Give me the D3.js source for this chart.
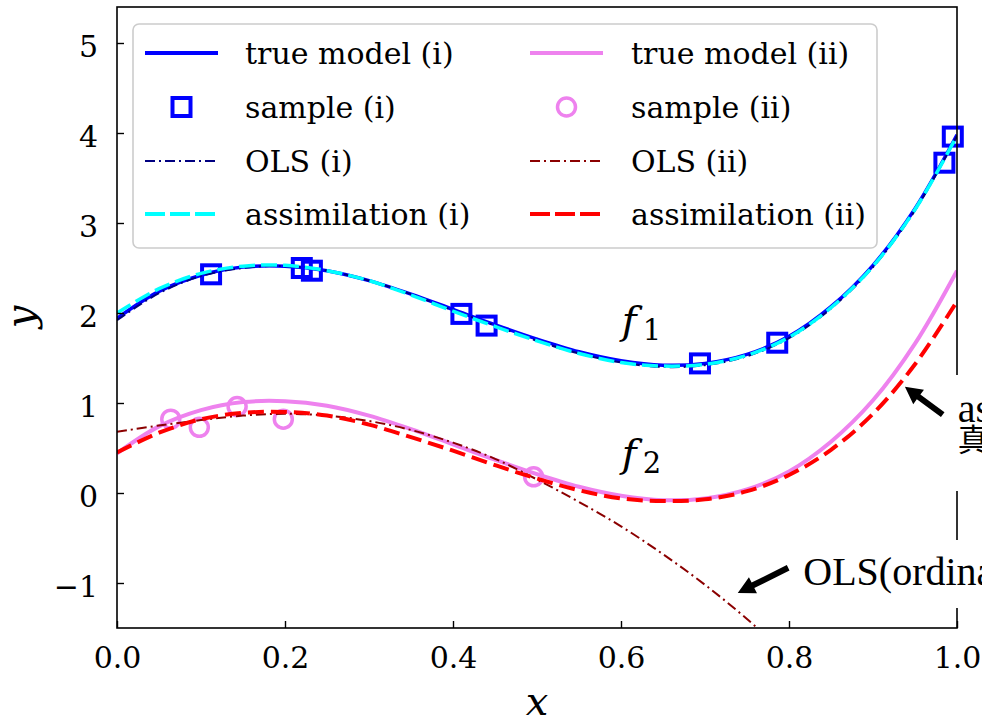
<!DOCTYPE html>
<html>
<head>
<meta charset="utf-8">
<script src="https://cdn.jsdelivr.net/npm/d3@7"></script>
<style>
  body { margin: 0; background: #fff; }
  svg { display: block; }
</style>
</head>
<body>
<svg id="chart"></svg>
<script>
const xGrid = [0, 0.05, 0.1, 0.15, 0.2, 0.25, 0.3, 0.35, 0.4, 0.45, 0.5,
               0.55, 0.6, 0.65, 0.7, 0.75, 0.8, 0.85, 0.9, 0.95, 1.0];

const trueModel1 = [1.94, 2.24, 2.42, 2.51, 2.52, 2.47, 2.36, 2.21, 2.04, 1.87, 1.71,
                    1.57, 1.47, 1.42, 1.44, 1.54, 1.74, 2.07, 2.53, 3.16, 3.98];
const ols1 = [1.92, 2.22, 2.41, 2.50, 2.52, 2.47, 2.36, 2.21, 2.03, 1.86, 1.69,
              1.55, 1.45, 1.40, 1.42, 1.52, 1.72, 2.05, 2.51, 3.14, 3.97];
const assim1 = [2.00, 2.27, 2.44, 2.52, 2.53, 2.47, 2.36, 2.20, 2.02, 1.85, 1.69,
                1.55, 1.45, 1.41, 1.43, 1.53, 1.73, 2.06, 2.52, 3.15, 3.97];

const trueModel2 = [0.44, 0.74, 0.92, 1.01, 1.02, 0.97, 0.86, 0.71, 0.54, 0.37, 0.21,
                    0.07, -0.03, -0.08, -0.06, 0.04, 0.24, 0.57, 1.03, 1.66, 2.47];
const ols2 = [0.68, 0.75, 0.81, 0.86, 0.88, 0.86, 0.80, 0.70, 0.56, 0.38, 0.15,
              -0.10, -0.37, -0.68, -1.02, -1.40, -1.82, -2.28, -2.78, -3.32, -3.90];
const assim2 = [0.45, 0.67, 0.82, 0.89, 0.90, 0.86, 0.76, 0.62, 0.47, 0.31, 0.16,
                0.03, -0.06, -0.09, -0.07, 0.02, 0.20, 0.48, 0.88, 1.43, 2.13];

const sample1X = [0.112, 0.220, 0.232, 0.41, 0.44, 0.694, 0.786, 0.985, 0.995];
const sample1Y = [2.43, 2.50, 2.47, 1.99, 1.86, 1.44, 1.67, 3.67, 3.96];
const sample2X = [0.064, 0.098, 0.143, 0.198, 0.496];
const sample2Y = [0.82, 0.73, 0.96, 0.82, 0.18];

const xTicks = [0, 0.2, 0.4, 0.6, 0.8, 1.0];
const yTicks = [-1, 0, 1, 2, 3, 4, 5];

const legendCol1 = ["true model (i)", "sample (i)", "OLS (i)", "assimilation (i)"];
const legendCol2 = ["true model (ii)", "sample (ii)", "OLS (ii)", "assimilation (ii)"];

const width = 982, height = 721;
const m = {left: 117, right: 957, top: 7, bottom: 628};

const svg = d3.select("#chart").attr("width", width).attr("height", height);

const x = d3.scaleLinear().domain([0, 1]).range([m.left, m.right]);
const y = d3.scaleLinear().domain([-1.5, 5.4]).range([m.bottom, m.top]);

svg.append("defs").append("clipPath").attr("id", "plot-clip")
    .append("rect")
    .attr("x", m.left).attr("y", m.top)
    .attr("width", m.right - m.left).attr("height", m.bottom - m.top);

// series styles, in drawing order
const series = [
    {name: "true model (i)", values: trueModel1, color: "#0000ff", width: 3.5, dash: null},
    {name: "OLS (i)", values: ols1, color: "#000080", width: 2, dash: "10,4,2,4"},
    {name: "assimilation (i)", values: assim1, color: "#00ffff", width: 3.5, dash: "16,6"},
    {name: "true model (ii)", values: trueModel2, color: "#ee82ee", width: 4, dash: null},
    {name: "OLS (ii)", values: ols2, color: "#8b0000", width: 2, dash: "10,4,2,4"},
    {name: "assimilation (ii)", values: assim2, color: "#ff0000", width: 4, dash: "16,7"}
];

const line = d3.line()
    .x((d, i) => x(xGrid[i]))
    .y(d => y(d))
    .curve(d3.curveCatmullRom.alpha(0.5));

const plot = svg.append("g");

function drawSeries(s) {
    plot.append("path")
        .attr("clip-path", "url(#plot-clip)")
        .attr("d", line(s.values))
        .attr("fill", "none")
        .attr("stroke", s.color)
        .attr("stroke-width", s.width)
        .attr("stroke-dasharray", s.dash);
}

const squareSide = 18;
drawSeries(series[0]);
plot.selectAll(".sq")
    .data(sample1X)
    .enter()
    .append("rect")
    .attr("class", "sq")
    .attr("x", (d) => x(d) - squareSide / 2)
    .attr("y", (d, i) => y(sample1Y[i]) - squareSide / 2)
    .attr("width", squareSide)
    .attr("height", squareSide)
    .attr("fill", "none")
    .attr("stroke", "#0000ff")
    .attr("stroke-width", 4);
drawSeries(series[1]);
drawSeries(series[2]);
drawSeries(series[3]);
plot.selectAll(".circ")
    .data(sample2X)
    .enter()
    .append("circle")
    .attr("class", "circ")
    .attr("cx", (d) => x(d))
    .attr("cy", (d, i) => y(sample2Y[i]))
    .attr("r", 9)
    .attr("fill", "none")
    .attr("stroke", "#ee82ee")
    .attr("stroke-width", 3.5);
drawSeries(series[4]);
drawSeries(series[5]);

// frame
svg.append("rect")
    .attr("x", m.left).attr("y", m.top)
    .attr("width", m.right - m.left).attr("height", m.bottom - m.top)
    .attr("fill", "none")
    .attr("stroke", "#000")
    .attr("stroke-width", 1.6);

// axes
const yAxis = d3.axisLeft(y).tickValues(yTicks).tickFormat(d3.format("d"))
    .tickSizeInner(-7).tickSizeOuter(0).tickPadding(19);
const xAxis = d3.axisBottom(x).tickValues(xTicks).tickFormat(d3.format(".1f"))
    .tickSizeInner(-7).tickSizeOuter(0).tickPadding(19);

const gy = svg.append("g").attr("transform", `translate(${m.left},0)`).call(yAxis);
const gx = svg.append("g").attr("transform", `translate(0,${m.bottom})`).call(xAxis);
[gx, gy].forEach(g => {
    g.select(".domain").remove();
    g.selectAll("line").attr("stroke", "#000").attr("stroke-width", 1.4);
    g.selectAll("text")
        .attr("font-family", "DejaVu Serif")
        .attr("font-size", 30)
        .attr("fill", "#000");
});
gy.selectAll("text").attr("dy", "0.44em");

svg.append("text")
    .attr("x", (m.left + m.right) / 2)
    .attr("y", 715)
    .attr("text-anchor", "middle")
    .attr("font-family", "DejaVu Serif")
    .attr("font-style", "italic")
    .attr("font-size", 40)
    .text("x");

svg.append("text")
    .attr("transform", "translate(34,317) rotate(-90)")
    .attr("text-anchor", "middle")
    .attr("font-family", "DejaVu Serif")
    .attr("font-style", "italic")
    .attr("font-size", 40)
    .text("y");

// f1 / f2 labels
const curveLabels = [{sub: "1", x: 0.601, y: 1.77}, {sub: "2", x: 0.601, y: 0.29}];
curveLabels.forEach(c => {
    const t = svg.append("text")
        .attr("x", x(c.x)).attr("y", y(c.y))
        .attr("font-family", "DejaVu Serif")
        .attr("font-size", 40);
    t.append("tspan").attr("font-style", "italic").text("f");
    t.append("tspan").attr("font-size", 29).attr("dx", 6).attr("dy", 6).text(c.sub);
});

// annotations (white boxes break the right spine)
const annoFont = "'Liberation Serif', 'Noto Sans CJK JP', serif";

const ann1 = svg.append("g");
ann1.append("rect")
    .attr("x", x(1.001) - 14).attr("y", 375)
    .attr("width", 300).attr("height", 116)
    .attr("fill", "#fff");
ann1.append("text")
    .attr("x", x(1.001)).attr("y", 422)
    .attr("font-family", annoFont)
    .attr("font-size", 40)
    .text("assimilation（データ同化）");
ann1.append("text")
    .attr("x", x(1.001)).attr("y", 451)
    .attr("font-family", "'Noto Sans CJK JP', sans-serif")
    .attr("font-size", 31)
    .text("真のモデルに近い");

const ann2 = svg.append("g");
ann2.append("rect")
    .attr("x", x(0.817) - 14).attr("y", 540)
    .attr("width", 400).attr("height", 68)
    .attr("fill", "#fff");
ann2.append("text")
    .attr("x", x(0.817)).attr("y", 585)
    .attr("font-family", annoFont)
    .attr("font-size", 40)
    .text("OLS(ordinary least squares)");

// black arrows
const arrows = [
    {tip: [0.938, 1.18], tail: [0.983, 0.87]},
    {tip: [0.739, -1.11], tail: [0.799, -0.83]}
];
arrows.forEach(a => {
    const tx = x(a.tip[0]), ty = y(a.tip[1]);
    const sx = x(a.tail[0]), sy = y(a.tail[1]);
    const len = Math.hypot(tx - sx, ty - sy);
    const ux = (tx - sx) / len, uy = (ty - sy) / len;
    const px = -uy, py = ux;
    const headLen = 17, headW = 9, shaftW = 3;
    const bx = tx - ux * headLen, by = ty - uy * headLen;
    const pts = [
        [sx + px * shaftW, sy + py * shaftW],
        [bx + px * shaftW, by + py * shaftW],
        [bx + px * headW, by + py * headW],
        [tx, ty],
        [bx - px * headW, by - py * headW],
        [bx - px * shaftW, by - py * shaftW],
        [sx - px * shaftW, sy - py * shaftW]
    ];
    svg.append("path")
        .attr("d", "M" + pts.map(p => p.join(",")).join("L") + "Z")
        .attr("fill", "#000");
});

// legend
const legend = svg.append("g");
legend.append("rect")
    .attr("x", 133).attr("y", 24)
    .attr("width", 744).attr("height", 224)
    .attr("rx", 6)
    .attr("fill", "#fff").attr("fill-opacity", 0.85)
    .attr("stroke", "#cccccc").attr("stroke-width", 1.6);

const rowY = [53, 107, 161, 214];
const cols = [
    {x0: 145, tx: 245, labels: legendCol1, line: series[0], ols: series[1], assim: series[2], marker: "square"},
    {x0: 530, tx: 631, labels: legendCol2, line: series[3], ols: series[4], assim: series[5], marker: "circle"}
];
cols.forEach(c => {
    const hl = 73;
    const handleLine = (s, ry, w) => legend.append("line")
        .attr("x1", c.x0).attr("x2", c.x0 + hl)
        .attr("y1", ry).attr("y2", ry)
        .attr("stroke", s.color)
        .attr("stroke-width", w)
        .attr("stroke-dasharray", s.dash);
    handleLine(c.line, rowY[0], 4);
    if (c.marker === "square") {
        legend.append("rect")
            .attr("x", c.x0 + hl / 2 - 9).attr("y", rowY[1] - 9)
            .attr("width", 18).attr("height", 18)
            .attr("fill", "none").attr("stroke", "#0000ff").attr("stroke-width", 4);
    } else {
        legend.append("circle")
            .attr("cx", c.x0 + hl / 2).attr("cy", rowY[1])
            .attr("r", 9)
            .attr("fill", "none").attr("stroke", "#ee82ee").attr("stroke-width", 3.5);
    }
    handleLine(c.ols, rowY[2], c.ols.width);
    const a = handleLine(c.assim, rowY[3], 4);
    a.attr("stroke-dasharray", "20,5");
    c.labels.forEach((lab, i) => {
        legend.append("text")
            .attr("x", c.tx).attr("y", rowY[i])
            .attr("dy", "0.35em")
            .attr("font-family", "DejaVu Serif")
            .attr("font-size", 30)
            .text(lab);
    });
});
</script>
</body>
</html>
